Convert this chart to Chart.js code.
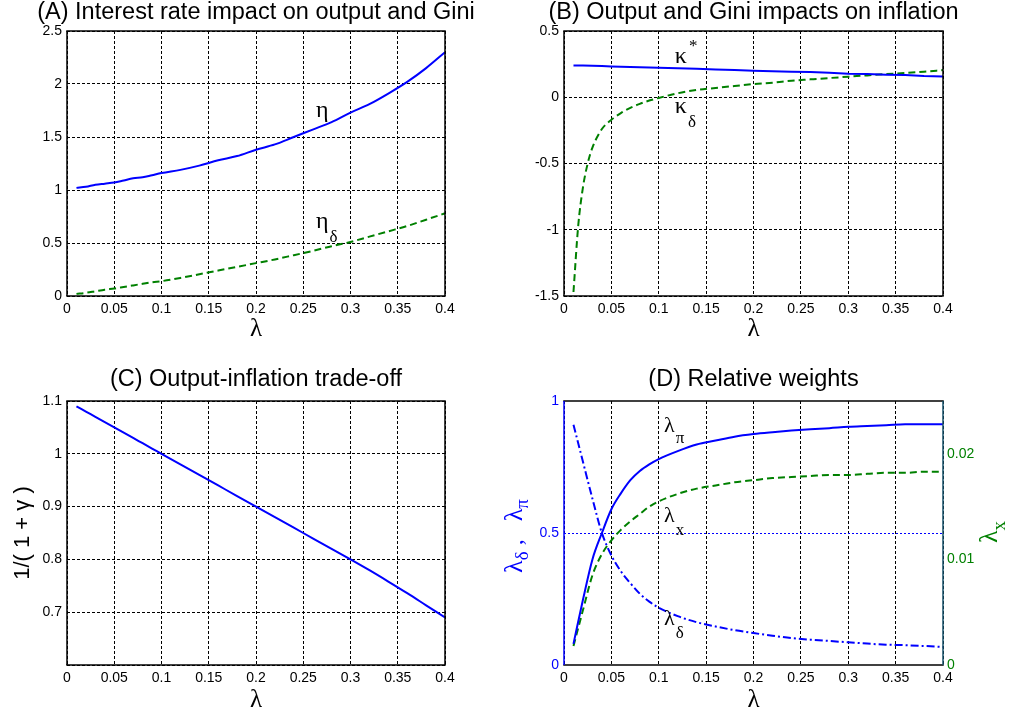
<!DOCTYPE html>
<html><head><meta charset="utf-8">
<script src="https://cdn.jsdelivr.net/npm/chart.js@4/dist/chart.umd.min.js"></script>
<style>
html,body{margin:0;padding:0;background:#fff;width:1012px;height:717px;overflow:hidden;position:relative}
canvas{position:absolute}
</style></head><body>
<canvas id="cA" width="512" height="358" style="left:0;top:0"></canvas>
<canvas id="cB" width="495" height="358" style="left:506px;top:0"></canvas>
<canvas id="cC" width="512" height="359" style="left:0;top:358px"></canvas>
<canvas id="cD" width="515" height="359" style="left:496px;top:358px"></canvas>
<script>
// ---- data ----
const lambdaGrid = [0.01,0.02,0.03,0.04,0.05,0.06,0.07,0.08,0.09,0.1,0.12,0.14,0.16,0.18,0.2,0.22,0.24,0.26,0.28,0.3,0.32,0.34,0.36,0.38,0.4];
const eta        = [1.02,1.03,1.05,1.06,1.07,1.09,1.11,1.12,1.14,1.16,1.19,1.23,1.28,1.32,1.38,1.43,1.50,1.57,1.64,1.73,1.81,1.91,2.02,2.15,2.30];
const etaDelta   = [0.02,0.03,0.045,0.06,0.07,0.085,0.10,0.115,0.13,0.14,0.17,0.205,0.24,0.275,0.31,0.345,0.385,0.425,0.47,0.51,0.56,0.61,0.66,0.72,0.78];
const kappaStar  = [0.24,0.24,0.238,0.235,0.232,0.23,0.229,0.226,0.224,0.222,0.218,0.215,0.21,0.205,0.20,0.197,0.192,0.19,0.185,0.178,0.175,0.17,0.167,0.16,0.157];
const kappaDeltaLambda = [0.01,0.015,0.02,0.025,0.03,0.04,0.05,0.06,0.07,0.08,0.09,0.1,0.12,0.14,0.16,0.18,0.2,0.22,0.24,0.26,0.28,0.3,0.32,0.34,0.36,0.38,0.4];
const kappaDelta = [-1.47,-0.97,-0.68,-0.5,-0.38,-0.24,-0.17,-0.12,-0.08,-0.05,-0.025,-0.005,0.03,0.055,0.07,0.085,0.10,0.11,0.125,0.135,0.145,0.155,0.165,0.175,0.183,0.193,0.205];
const tradeOff   = [1.09,1.08,1.07,1.06,1.05,1.04,1.03,1.02,1.01,1.0,0.98,0.96,0.94,0.92,0.90,0.88,0.86,0.84,0.82,0.80,0.7795,0.758,0.736,0.713,0.69];
const lambdaPi   = [0.08,0.247,0.40,0.50,0.59,0.65,0.70,0.735,0.76,0.78,0.81,0.835,0.85,0.865,0.875,0.882,0.888,0.893,0.897,0.902,0.905,0.908,0.912,0.912,0.912];
const lambdaDelta= [0.91,0.77,0.63,0.50,0.415,0.355,0.31,0.27,0.24,0.217,0.185,0.162,0.146,0.132,0.121,0.111,0.102,0.096,0.091,0.086,0.081,0.077,0.075,0.072,0.068];
const lambdaX    = [0.0018,0.0052,0.0085,0.0105,0.0118,0.0128,0.0136,0.0143,0.015,0.0155,0.0162,0.0167,0.017,0.0173,0.0175,0.0177,0.0178,0.0179,0.018,0.018,0.0181,0.0182,0.0182,0.0183,0.0183];
const titles = ['(A) Interest rate impact on output and Gini','(B) Output and Gini impacts on inflation','(C) Output-inflation trade-off','(D) Relative weights'];

const BLUE = '#0000ff', GREEN = '#008000';
const pts = (xs, ys) => xs.map((x, i) => ({x: x, y: ys[i]}));
const fmt = d => v => String(+(+v).toFixed(d));

function drawSub(ctx, x, y, t){
  ctx.save();
  ctx.fillStyle = '#000';
  ctx.textAlign = 'left'; ctx.textBaseline = 'alphabetic';
  ctx.font = (t.size || 24) + 'px "Liberation Serif"';
  ctx.fillText(t.main, x, y);
  const w = ctx.measureText(t.main).width;
  ctx.font = '17px "Liberation Serif"';
  if (t.sub) ctx.fillText(t.sub, x + w + 1, y + t.dy);
  if (t.sup) ctx.fillText(t.sup, x + w + 2, y - 12);
  ctx.restore();
}

function makeDecor(sides, annots, extra){
  return {
    id: 'decor',
    afterDatasetsDraw(chart){
      const {ctx, chartArea: a, scales} = chart;
      ctx.save();
      ctx.lineWidth = 1.5;
      const seg = (x1,y1,x2,y2,c) => {ctx.strokeStyle=c;ctx.beginPath();ctx.moveTo(x1,y1);ctx.lineTo(x2,y2);ctx.stroke();};
      seg(a.left-0.75,a.top,a.right+0.75,a.top,sides[0]);
      seg(a.left-0.75,a.bottom,a.right+0.75,a.bottom,sides[2]);
      seg(a.right,a.top,a.right,a.bottom,sides[1]);
      seg(a.left,a.top,a.left,a.bottom,sides[3]);
      ctx.restore();
      annots.forEach(t => {
        const px = scales.x.getPixelForValue(t.x);
        const py = scales[t.axis || 'y'].getPixelForValue(t.y);
        drawSub(ctx, px, py, t);
      });
      if (extra) extra(chart);
    }
  };
}

function xScale(padBottom){
  return {
    type: 'linear', min: 0, max: 0.4,
    ticks: {stepSize: 0.05, callback: fmt(2), color: '#000', padding: 5, maxRotation: 0, autoSkip: false,
            font: {family: 'Liberation Sans', size: 14}},
    grid: {color: '#000', lineWidth: 1, drawTicks: false},
    border: {display: false, dash: [3,2]},
    title: {display: true, text: 'λ', color: '#000', font: {family: 'Liberation Serif', size: 25}, padding: {top: 0, bottom: padBottom}}
  };
}

function build(id, cfg){
  const W = cfg.W, H = cfg.H;
  const scales = {x: xScale(cfg.xTitlePad)};
  scales.x.afterFit = s => { s.height = H - cfg.box[3]; };
  scales.y = Object.assign({
    type: 'linear', position: 'left',
    grid: {color: '#000', lineWidth: 1, drawTicks: false},
    border: {display: false, dash: [3,2]},
    afterFit: s => { s.width = cfg.box[0]; }
  }, cfg.y);
  scales.y.ticks = Object.assign({color: '#000', padding: 5, font: {family: 'Liberation Sans', size: 14}}, cfg.y.ticks);
  // right-hand axis: real one for (D), a spacer for the others (keeps the plot centred under its title)
  scales.y2 = Object.assign({
    type: 'linear', position: 'right',
    grid: {display: false, drawTicks: false},
    border: {display: false},
    ticks: {display: false},
    afterFit: s => { s.width = W - cfg.box[2]; }
  }, cfg.y2 || {});
  return new Chart(document.getElementById(id), {
    type: 'line',
    data: {datasets: cfg.datasets},
    options: {
      responsive: false, animation: false, devicePixelRatio: 1,
      layout: {padding: 0},
      plugins: {
        legend: {display: false}, tooltip: {enabled: false},
        title: {display: true, text: cfg.title, color: '#000',
                font: {family: 'Liberation Sans', size: 23.5, weight: 'normal', lineHeight: 1},
                padding: cfg.titlePad}
      },
      elements: {point: {radius: 0}, line: {borderWidth: 2, tension: 0}},
      scales: scales
    },
    plugins: [makeDecor(cfg.sides || ['#000','#000','#000','#000'], cfg.annots || [], cfg.extra)]
  });
}

// (A)
build('cA', {
  W: 512, H: 358, box: [67, 31, 445, 296], xTitlePad: 14, titlePad: {top: 1, bottom: 6.5},
  title: titles[0],
  y: {min: 0, max: 2.5, ticks: {stepSize: 0.5, callback: fmt(1)}},
  datasets: [
    {data: pts(lambdaGrid, eta), borderColor: BLUE, cubicInterpolationMode: 'monotone'},
    {data: pts(lambdaGrid, etaDelta), borderColor: GREEN, borderDash: [7,4], cubicInterpolationMode: 'monotone'}
  ],
  annots: [
    {x: 0.2635, y: 1.689, main: 'η'},
    {x: 0.2635, y: 0.6415, main: 'η', sub: 'δ', dy: 14}
  ]
});

// (B)
build('cB', {
  W: 495, H: 358, box: [58, 31, 437, 296], xTitlePad: 14, titlePad: {top: 1, bottom: 6.5},
  title: titles[1],
  y: {min: -1.5, max: 0.5, ticks: {stepSize: 0.5, callback: fmt(1)}},
  datasets: [
    {data: pts(lambdaGrid, kappaStar), borderColor: BLUE},
    {data: pts(kappaDeltaLambda, kappaDelta), borderColor: GREEN, borderDash: [7,4], cubicInterpolationMode: 'monotone'}
  ],
  annots: [
    {x: 0.117, y: 0.2585, main: 'κ', sup: '*'},
    {x: 0.117, y: -0.119, main: 'κ', sub: 'δ', dy: 14}
  ]
});

// (C)
build('cC', {
  W: 512, H: 359, box: [67, 43, 445, 307], xTitlePad: 2, titlePad: {top: 10, bottom: 9.5},
  title: titles[2],
  y: {min: 0.6, max: 1.1,
      ticks: {stepSize: 0.1, callback: v => Math.abs(v - 0.6) < 1e-6 ? '' : String(+(+v).toFixed(1))},
      title: {display: true, text: '1/( 1 + γ )', color: '#000', font: {family: 'Liberation Sans', size: 22}, padding: {top: 10, bottom: 0}}},
  datasets: [
    {data: pts(lambdaGrid, tradeOff), borderColor: BLUE, cubicInterpolationMode: 'monotone'}
  ]
});

// (D)
function rotatedLabel(ctx, cx, cy, parts, color){
  ctx.save();
  ctx.fillStyle = color;
  ctx.translate(cx, cy);
  ctx.rotate(-Math.PI / 2);
  ctx.textBaseline = 'alphabetic';
  let total = 0;
  parts.forEach(p => { ctx.font = p[1] + 'px "Liberation Serif"'; p.w = ctx.measureText(p[0]).width; total += p.w; });
  let x = -total / 2;
  parts.forEach(p => { ctx.font = p[1] + 'px "Liberation Serif"'; ctx.fillText(p[0], x, p[2]); x += p.w; });
  ctx.restore();
}
build('cD', {
  W: 515, H: 359, box: [68, 43, 447, 307], xTitlePad: 2, titlePad: {top: 10, bottom: 9.5},
  title: titles[3],
  sides: ['#000', '#14506a', '#000', BLUE],
  y: {min: 0, max: 1,
      ticks: {stepSize: 0.5, color: BLUE, callback: fmt(1)},
      grid: {color: ctx => (ctx.tick && Math.abs(ctx.tick.value - 0.5) < 1e-6) ? BLUE : 'rgba(0,0,0,0)', lineWidth: 1, drawTicks: false},
      border: {display: false, dash: [2,2]}},
  y2: {min: 0, max: 0.025,
      ticks: {display: true, stepSize: 0.01, color: GREEN, padding: 4, font: {family: 'Liberation Sans', size: 14},
              callback: v => v > 0.0201 ? '' : String(+(+v).toFixed(2))}},
  datasets: [
    {data: pts(lambdaGrid, lambdaPi), borderColor: BLUE, cubicInterpolationMode: 'monotone', yAxisID: 'y'},
    {data: pts(lambdaGrid, lambdaX), borderColor: GREEN, borderDash: [7,4], cubicInterpolationMode: 'monotone', yAxisID: 'y2'},
    {data: pts(lambdaGrid, lambdaDelta), borderColor: BLUE, borderDash: [8,3,2,3], cubicInterpolationMode: 'monotone', yAxisID: 'y'}
  ],
  annots: [
    {x: 0.1055, y: 0.8826, main: 'λ', sub: 'π', dy: 11, size: 22},
    {x: 0.1055, y: 0.5417, main: 'λ', sub: 'x', dy: 13, size: 22},
    {x: 0.1055, y: 0.1515, main: 'λ', sub: 'δ', dy: 13, size: 22}
  ],
  extra: chart => {
    const ctx = chart.ctx;
    rotatedLabel(ctx, 26, 178, [['λ',26,0],['δ',19,6],[' ,   ',24,0],['λ',26,0],['π',19,6]], BLUE);
    rotatedLabel(ctx, 501, 174, [['λ',26,0],['x',19,8]], GREEN);
  }
});
</script>
</body></html>
